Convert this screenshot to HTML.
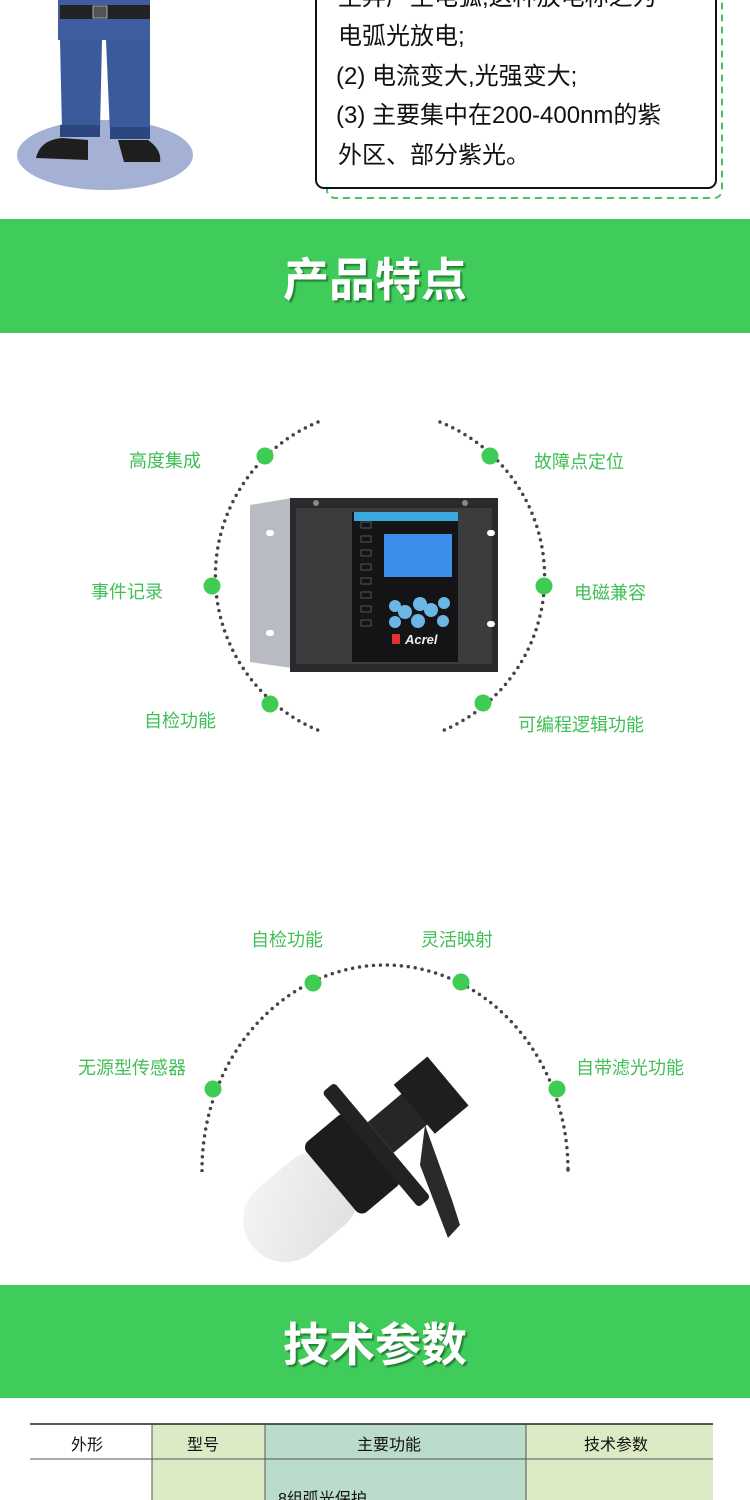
<!DOCTYPE html>
<html><head><meta charset="utf-8"><style>
html,body{margin:0;padding:0;background:#fff;}
svg{display:block;}
text{font-family:"Liberation Sans","Noto Sans CJK SC",sans-serif;}
</style></head><body>
<svg width="750" height="1500" viewBox="0 0 750 1500" xmlns="http://www.w3.org/2000/svg">
<defs>
<filter id="sh" x="-10%" y="-10%" width="130%" height="130%"><feDropShadow dx="2" dy="2" stdDeviation="0.8" flood-color="#1c6a2a" flood-opacity="0.8"/></filter>
<linearGradient id="bulb" x1="0" y1="0" x2="1" y2="1"><stop offset="0" stop-color="#f6f6f6"/><stop offset="1" stop-color="#dedede"/></linearGradient>
<clipPath id="top"><rect x="0" y="900" width="750" height="272"/></clipPath>
</defs>
<rect width="750" height="1500" fill="#fff"/>

<!-- top figure -->
<ellipse cx="105" cy="155" rx="88" ry="35" fill="#a4b0d4"/>
<rect x="58" y="0" width="92" height="40" fill="#3f5e9f"/>
<rect x="60" y="5" width="90" height="14" fill="#222"/>
<rect x="93" y="6" width="14" height="12" fill="#555" stroke="#aaa"/>
<path d="M60 40 L102 40 L100 130 L62 130 Z" fill="#3a5a9c"/>
<path d="M106 40 L150 40 L150 132 L110 132 Z" fill="#3a5a9c"/>
<rect x="60" y="125" width="40" height="12" fill="#2c4780"/>
<rect x="110" y="127" width="40" height="12" fill="#2c4780"/>
<path d="M36 158 Q40 140 62 138 L88 140 L88 160 Z" fill="#1e1e1e"/>
<path d="M118 140 L148 140 Q162 150 160 162 L124 162 Z" fill="#1e1e1e"/>

<!-- text box -->
<rect x="327" y="-10" width="395" height="208" rx="8" fill="none" stroke="#4cc065" stroke-width="2" stroke-dasharray="7 5"/>
<rect x="316" y="-10" width="400" height="198" rx="8" fill="#fff" stroke="#111" stroke-width="2"/>
<g font-size="24" fill="#111">
<text x="338" y="5">生弄产生电弧,这种放电称之为</text>
<text x="338" y="44">电弧光放电;</text>
<text x="336" y="84">(2) 电流变大,光强变大;</text>
<text x="336" y="123">(3) 主要集中在200-400nm的紫</text>
<text x="338" y="163">外区、部分紫光。</text>
</g>

<!-- banner 1 -->
<rect x="0" y="219" width="750" height="114" fill="#40cc5a"/>
<text x="375" y="296" font-size="46" font-weight="bold" fill="#fff" text-anchor="middle" filter="url(#sh)">产品特点</text>

<!-- circle 1 -->
<g fill="none" stroke="#444" stroke-width="3.5" stroke-linecap="round" stroke-dasharray="0 7">
<path d="M318 422 A167 167 0 0 0 320 731"/>
<path d="M440 422 A167 167 0 0 1 442 731"/>
</g>
<g fill="#3fcc55">
<circle cx="265" cy="456" r="8.5"/><circle cx="212" cy="586" r="8.5"/><circle cx="270" cy="704" r="8.5"/>
<circle cx="490" cy="456" r="8.5"/><circle cx="544" cy="586" r="8.5"/><circle cx="483" cy="703" r="8.5"/>
</g>
<g font-size="18" fill="#3fbf55">
<text x="165" y="467" text-anchor="middle">高度集成</text>
<text x="127" y="598" text-anchor="middle">事件记录</text>
<text x="180" y="727" text-anchor="middle">自检功能</text>
<text x="579" y="468" text-anchor="middle">故障点定位</text>
<text x="610" y="599" text-anchor="middle">电磁兼容</text>
<text x="581" y="731" text-anchor="middle">可编程逻辑功能</text>
</g>

<!-- device -->
<path d="M250 505 L292 498 L292 668 L250 662 Z" fill="#b8bcc2"/>
<rect x="266" y="530" width="8" height="6" rx="3" fill="#fff"/>
<rect x="266" y="630" width="8" height="6" rx="3" fill="#fff"/>
<rect x="290" y="498" width="208" height="174" fill="#2a2a2c"/>
<rect x="296" y="508" width="196" height="156" fill="#3c3c3e"/>
<rect x="352" y="512" width="106" height="150" fill="#141416"/>
<rect x="354" y="512" width="104" height="9" fill="#3aa8dc"/>
<rect x="384" y="534" width="68" height="43" fill="#3c8fe8"/>
<g fill="none" stroke="#666" stroke-width="0.8">
<rect x="361" y="522" width="10" height="6"/><rect x="361" y="536" width="10" height="6"/><rect x="361" y="550" width="10" height="6"/>
<rect x="361" y="564" width="10" height="6"/><rect x="361" y="578" width="10" height="6"/><rect x="361" y="592" width="10" height="6"/>
<rect x="361" y="606" width="10" height="6"/><rect x="361" y="620" width="10" height="6"/>
</g>
<g fill="#6ab6e4">
<circle cx="395" cy="606" r="6"/><circle cx="420" cy="604" r="7"/><circle cx="405" cy="612" r="7"/><circle cx="431" cy="610" r="7"/><circle cx="418" cy="621" r="7"/><circle cx="444" cy="603" r="6"/><circle cx="395" cy="622" r="6"/><circle cx="443" cy="621" r="6"/>
</g>
<text x="405" y="644" font-size="13" font-style="italic" font-weight="bold" fill="#eee">Acrel</text>
<rect x="392" y="634" width="8" height="10" fill="#d33"/>
<circle cx="316" cy="503" r="3" fill="#888"/><circle cx="465" cy="503" r="3" fill="#888"/>
<rect x="487" y="530" width="8" height="6" rx="3" fill="#fff"/>
<rect x="487" y="621" width="8" height="6" rx="3" fill="#fff"/>

<!-- arc 2 -->
<ellipse cx="385" cy="1170" rx="183" ry="205" fill="none" stroke="#444" stroke-width="3.5" stroke-linecap="round" stroke-dasharray="0 7" clip-path="url(#top)"/>
<g fill="#3fcc55">
<circle cx="213" cy="1089" r="8.5"/><circle cx="313" cy="983" r="8.5"/><circle cx="461" cy="982" r="8.5"/><circle cx="557" cy="1089" r="8.5"/>
</g>
<g font-size="18" fill="#3fbf55">
<text x="287" y="946" text-anchor="middle">自检功能</text>
<text x="457" y="946" text-anchor="middle">灵活映射</text>
<text x="132" y="1074" text-anchor="middle">无源型传感器</text>
<text x="630" y="1074" text-anchor="middle">自带滤光功能</text>
</g>

<!-- sensor -->
<g transform="rotate(-40 330 1180)">
<rect x="228" y="1140" width="125" height="84" rx="42" fill="url(#bulb)"/>
<rect x="330" y="1136" width="55" height="92" rx="8" fill="#1c1c1c"/>
<rect x="380" y="1108" width="16" height="150" rx="4" fill="#222"/>
<rect x="396" y="1160" width="46" height="40" fill="#262626"/>
<rect x="440" y="1148" width="44" height="64" fill="#1e1e1e"/>
</g>
<path d="M425 1125 L452 1200 L460 1225 L448 1238 L420 1165 Z" fill="#2a2a2a"/>

<!-- banner 2 -->
<rect x="0" y="1285" width="750" height="113" fill="#40cc5a"/>
<text x="375" y="1361" font-size="46" font-weight="bold" fill="#fff" text-anchor="middle" filter="url(#sh)">技术参数</text>

<!-- table -->
<rect x="152" y="1424" width="113" height="76" fill="#dcebc6"/>
<rect x="265" y="1424" width="261" height="76" fill="#bcdccb"/>
<rect x="526" y="1424" width="187" height="76" fill="#dcebc6"/>
<line x1="30" y1="1424" x2="713" y2="1424" stroke="#222" stroke-width="1.5"/>
<line x1="30" y1="1459" x2="713" y2="1459" stroke="#555" stroke-width="1"/>
<g stroke="#555" stroke-width="1"><line x1="152" y1="1424" x2="152" y2="1500"/><line x1="265" y1="1424" x2="265" y2="1500"/><line x1="526" y1="1424" x2="526" y2="1500"/></g>
<g font-size="16" fill="#111" text-anchor="middle">
<text x="87" y="1450">外形</text><text x="203" y="1450">型号</text><text x="389" y="1450">主要功能</text><text x="616" y="1450">技术参数</text>
</g>
<text x="278" y="1504" font-size="16" fill="#111">8组弧光保护</text>
</svg>
</body></html>
